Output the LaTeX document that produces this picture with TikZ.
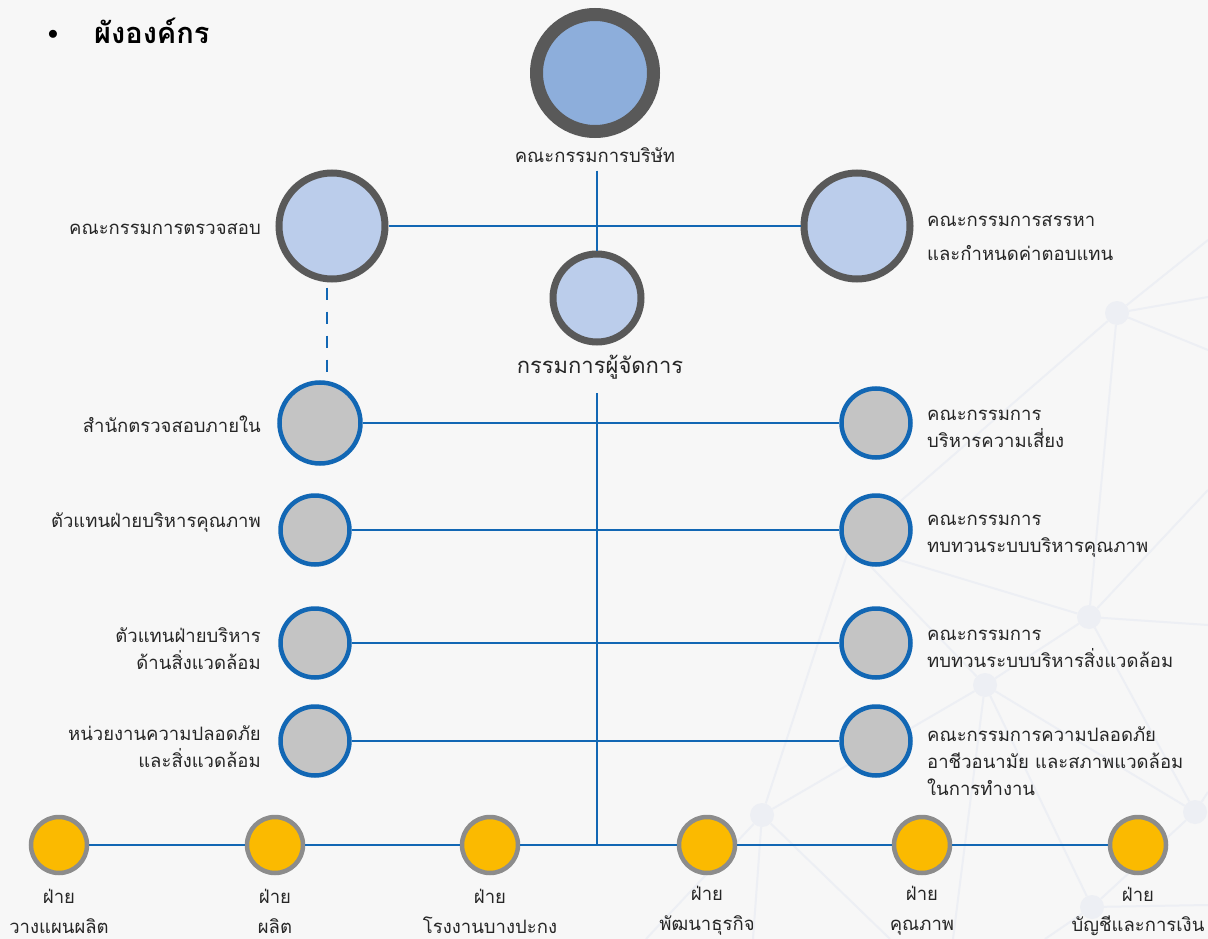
\documentclass[tikz,border=0pt]{standalone}
\usepackage{fontspec}
\newfontfamily\thai[Script=Thai]{Loma}
\definecolor{bg}{HTML}{F7F7F7}
\definecolor{net}{HTML}{EDEFF4}
\definecolor{cblue}{HTML}{1267B4}
\definecolor{dgray}{HTML}{595959}
\definecolor{topblue}{HTML}{8DAEDB}
\definecolor{lblue}{HTML}{BBCDEB}
\definecolor{cgray}{HTML}{C4C4C4}
\definecolor{cyellow}{HTML}{FBBA00}
\definecolor{ygray}{HTML}{8C8C8C}
\definecolor{txt}{HTML}{262626}
\tikzset{
  conn/.style={draw=cblue, line width=2.6pt},
  netline/.style={draw=net, line width=2pt},
  netnode/.style={circle, fill=net, minimum size=24pt, inner sep=0},
  topc/.style={circle, draw=dgray, fill=topblue, line width=13pt, minimum size=117pt, inner sep=0},
  bigc/.style={circle, draw=dgray, fill=lblue, line width=7pt, minimum size=106pt, inner sep=0},
  mdc/.style={circle, draw=dgray, fill=lblue, line width=7pt, minimum size=88pt, inner sep=0},
  grayc/.style={circle, draw=cblue, fill=cgray, line width=4.5pt, minimum size=69pt, inner sep=0},
  graycbig/.style={grayc, minimum size=81pt},
  yelc/.style={circle, draw=ygray, fill=cyellow, line width=4.5pt, minimum size=56pt, inner sep=0},
  lbl/.style={font=\thai\fontsize{18.5}{27}\selectfont, text=txt, inner sep=0},
  lblL/.style={lbl, anchor=east, align=right},
  lblR/.style={lbl, anchor=west, align=left},
  lblB/.style={lbl, align=center, font=\thai\fontsize{18.5}{30}\selectfont},
}
\begin{document}
\begin{tikzpicture}[x=1pt,y=-1pt]
\fill[bg] (0,0) rectangle (1208,939);
\useasboundingbox (0,0) rectangle (1208,939);
% background network
\node[netnode] (nA) at (1117,313) {};
\node[netnode] (nB) at (1089,617) {};
\node[netnode] (nC) at (985,685) {};
\node[netnode] (nD) at (762,815) {};
\node[netnode] (nE) at (1195,812) {};
\node[netnode] (nF) at (1092,907) {};
\coordinate (nH) at (850,545);
\coordinate (e1) at (1208,240);
\coordinate (e2) at (1208,297);
\coordinate (e3) at (1208,350);
\coordinate (e4) at (1208,625);
\coordinate (e5) at (1208,490);
\coordinate (e6) at (1208,792);
\coordinate (e7) at (1208,905);
\coordinate (b1) at (646,939);
\coordinate (b2) at (753,939);
\coordinate (b3) at (890,939);
\coordinate (b4) at (953,939);
\coordinate (b5) at (1045,939);
\begin{scope}[netline]
\draw (nA) -- (e1); \draw (nA) -- (e2); \draw (nA) -- (e3);
\draw (nA) -- (nB); \draw (nA) -- (nH);
\draw (nB) -- (e4); \draw (nB) -- (e5); \draw (nB) -- (nC);
\draw (nB) -- (nE); \draw (nB) -- (nH);
\draw (nC) -- (nH); \draw (nC) -- (nD); \draw (nC) -- (nE);
\draw (nC) -- (nF); \draw (nC) -- (b4);
\draw (nD) -- (nH); \draw (nD) -- (b1); \draw (nD) -- (b2); \draw (nD) -- (b3);
\draw (nE) -- (nF); \draw (nE) -- (e6); \draw (nF) -- (e7); \draw (nF) -- (b5);
\end{scope}
% title
\node[font=\huge] (bul) at (53,35) {$\bullet$};
\node[font=\thai\bfseries\fontsize{29}{32}\selectfont, anchor=west, inner sep=0, text=black] (title) at (94,31) {ผังองค์กร};
% top level
\node[topc] (board) at (595,73) {};
\node[lbl] (boardl) at (595,155) {คณะกรรมการบริษัท};
\node[bigc] (audit) at (332,226) {};
\node[bigc] (rem) at (857,226) {};
\node[lblL] (auditl) at (261,229) {คณะกรรมการตรวจสอบ};
\node[lblR] (reml) at (927,238) {คณะกรรมการสรรหา\\[7pt]และกำหนดค่าตอบแทน};
\node[mdc] (md) at (597,298) {};
\node[lbl, font=\thai\fontsize{22}{27}\selectfont] (mdl) at (600,367) {กรรมการผู้จัดการ};
% second level
\node[graycbig] (l1) at (320,423) {};
\node[grayc] (l2) at (315,530) {};
\node[grayc] (l3) at (315,643) {};
\node[grayc] (l4) at (315,741) {};
\node[grayc] (r1) at (876,423) {};
\node[grayc] (r2) at (876,530) {};
\node[grayc] (r3) at (876,643) {};
\node[grayc] (r4) at (876,741) {};
\node[lblL] (l1l) at (261,424) {สำนักตรวจสอบภายใน};
\node[lblL] (l2l) at (261,522) {ตัวแทนฝ่ายบริหารคุณภาพ};
\node[lblL] (l3l) at (261,649) {ตัวแทนฝ่ายบริหาร\\ด้านสิ่งแวดล้อม};
\node[lblL] (l4l) at (261,747) {หน่วยงานความปลอดภัย\\และสิ่งแวดล้อม};
\node[lblR] (r1l) at (927,429) {คณะกรรมการ\\บริหารความเสี่ยง};
\node[lblR] (r2l) at (927,536) {คณะกรรมการ\\ทบทวนระบบบริหารคุณภาพ};
\node[lblR] (r3l) at (927,649) {คณะกรรมการ\\ทบทวนระบบบริหารสิ่งแวดล้อม};
\node[lblR] (r4l) at (927,761) {คณะกรรมการความปลอดภัย\\อาชีวอนามัย และสภาพแวดล้อม\\ในการทำงาน};
% departments
\node[yelc] (d1) at (59,845) {};
\node[yelc] (d2) at (275,845) {};
\node[yelc] (d3) at (490,845) {};
\node[yelc] (d4) at (707,845) {};
\node[yelc] (d5) at (922,845) {};
\node[yelc] (d6) at (1138,845) {};
\node[lblB] (d1l) at (59,911) {ฝ่าย\\วางแผนผลิต};
\node[lblB] (d2l) at (275,911) {ฝ่าย\\ผลิต};
\node[lblB] (d3l) at (490,911) {ฝ่าย\\โรงงานบางปะกง};
\node[lblB] (d4l) at (707,911) {ฝ่าย\\พัฒนาธุรกิจ};
\node[lblB] (d5l) at (922,911) {ฝ่าย\\คุณภาพ};
\node[lblB] (d6l) at (1138,911) {ฝ่าย\\บัญชีและการเงิน};
\coordinate (junc) at (597,845);
\coordinate (dashx) at (327,0);
% connectors
\draw[conn] ([yshift=-8pt]boardl.south -| md) -- (md.north);
\draw[conn] (audit.east) -- (rem.west);
\draw[conn, dash pattern=on 12pt off 12pt] ([yshift=-5pt]audit.south -| dashx) -- ([yshift=6pt]l1.north -| dashx);
\draw[conn] ([yshift=-14pt]mdl.south -| md) -- (junc);
\draw[conn] (l1.east) -- (r1.west);
\draw[conn] (l2.east) -- (r2.west);
\draw[conn] (l3.east) -- (r3.west);
\draw[conn] (l4.east) -- (r4.west);
\draw[conn] (d1.east) -- (d2.west);
\draw[conn] (d2.east) -- (d3.west);
\draw[conn] (d3.east) -- (d4.west);
\draw[conn] (d4.east) -- (d5.west);
\draw[conn] (d5.east) -- (d6.west);
\end{tikzpicture}
\end{document}
